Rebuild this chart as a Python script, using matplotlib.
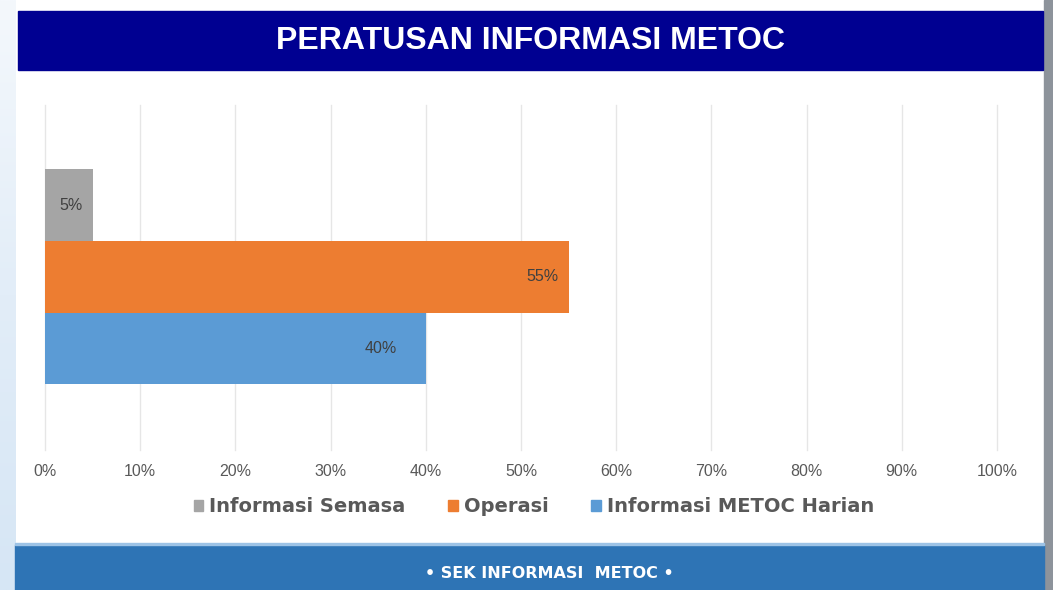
import numpy as np
import matplotlib.pyplot as plt
from matplotlib.colors import LinearSegmentedColormap
from matplotlib.patches import Patch, Rectangle

plt.rcParams['font.family'] = ['Liberation Sans', 'DejaVu Sans']

# 数据
series_names = ['Informasi Semasa', 'Operasi', 'Informasi METOC Harian']
values = [5, 55, 40]
colors = ['#A5A5A5', '#ED7D31', '#5B9BD5']
tick_values = list(range(0, 101, 10))
tick_labels = [f'{v}%' for v in tick_values]

W, H = 1053, 590
fig = plt.figure(figsize=(W / 100, H / 100), dpi=100)
fig.patch.set_facecolor('white')

# 背景：左侧浅蓝渐变，右侧灰色边框
bg = fig.add_axes([0, 0, 1, 1], zorder=-10)
bg.set_xlim(0, W)
bg.set_ylim(H, 0)
bg.axis('off')
grad = np.linspace(0, 1, 200).reshape(-1, 1)
cmap_lb = LinearSegmentedColormap.from_list('lb', ['#F4F8FC', '#E2EDF8', '#D6E6F5'])
bg.imshow(grad, extent=[0, 16, H, 0], cmap=cmap_lb, aspect='auto')
bg.add_patch(Rectangle((1044, 0), 9, H, color='#8D939B'))
# 标题栏
bg.add_patch(Rectangle((18, 11), 1025, 59, color='#000091'))
bg.text(530, 41, 'PERATUSAN INFORMASI METOC', color='white', fontsize=23,
        fontweight='bold', ha='center', va='center')
# 底栏
bg.add_patch(Rectangle((15, 545), 1029, 45, color='#2E74B5'))
bg.add_patch(Rectangle((15, 543), 1029, 2, color='#9DC3E6'))
bg.text(549, 573, '• SEK INFORMASI  METOC •', color='white', fontsize=11.5,
        fontweight='bold', ha='center', va='center', family='DejaVu Sans')

# 条形图
ax = fig.add_axes([45 / W, (H - 450) / H, (997 - 45) / W, (450 - 105) / H])
positions = [2, 1, 0]
ax.barh(positions, values, height=1.0, color=colors, zorder=2)

label_shift = [2.3, 2.8, 4.7]
for p, v, s in zip(positions, values, label_shift):
    ax.text(v - s, p, f'{v}%', ha='center', va='center', fontsize=11.5, color='#404040', zorder=3)

ax.set_xlim(0, 100)
ax.set_ylim(-1.415, 3.4)
ax.set_xticks(tick_values)
ax.set_xticklabels(tick_labels, fontsize=11.5, color='#595959')
ax.tick_params(axis='x', length=0, pad=10)
ax.set_yticks([])
ax.grid(axis='x', color='#E6E6E6', linewidth=1, zorder=0)
for gl in ax.get_xgridlines():
    gl.set_clip_on(False)
for sp in ax.spines.values():
    sp.set_visible(False)
ax.set_facecolor('none')

handles = [Patch(color=c) for c in colors]
fig.legend(handles, series_names, loc='center', bbox_to_anchor=(534 / W, (H - 507) / H),
           ncol=3, frameon=False, handlelength=0.5, handleheight=0.5,
           handletextpad=0.3, columnspacing=2.2, labelcolor='#595959',
           prop={'family': 'DejaVu Sans', 'weight': 'bold', 'size': 14})

plt.savefig('out.png', dpi=100)
